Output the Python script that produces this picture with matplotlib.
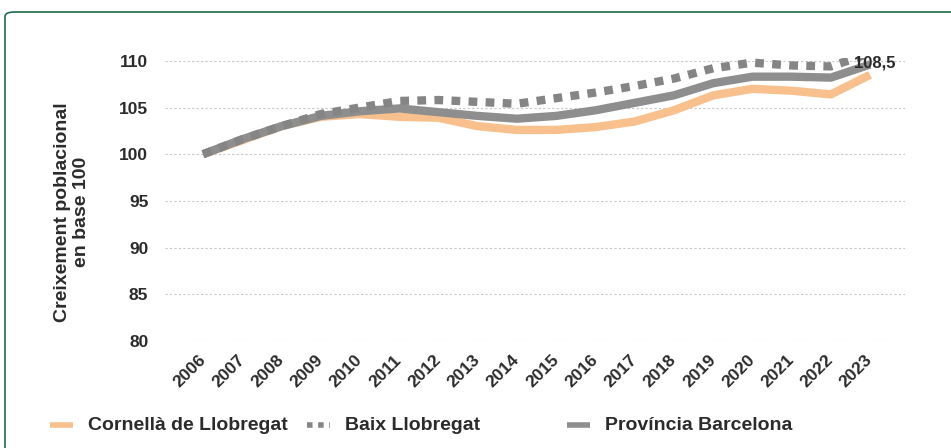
import matplotlib
matplotlib.use("Agg")
import matplotlib.pyplot as plt
from matplotlib.patches import FancyBboxPatch
from matplotlib.lines import Line2D

plt.rcParams['font.family'] = ['Liberation Sans', 'DejaVu Sans']

years = list(range(2006, 2024))
cornella = [100, 101.5, 103.0, 104.0, 104.3, 104.0, 103.9, 103.0, 102.6, 102.6,
            102.9, 103.5, 104.7, 106.3, 107.0, 106.8, 106.4, 108.5]
baix = [100, 101.6, 103.0, 104.3, 105.0, 105.7, 105.8, 105.6, 105.4, 106.0,
        106.6, 107.3, 108.1, 109.2, 109.8, 109.5, 109.4, 110.8]
provincia = [100, 101.6, 103.0, 104.1, 104.6, 104.9, 104.5, 104.1, 103.8, 104.1,
             104.7, 105.5, 106.3, 107.6, 108.3, 108.3, 108.2, 109.6]
labels = ["Cornellà de Llobregat", "Baix Llobregat", "Província Barcelona"]
yticks = [80, 85, 90, 95, 100, 105, 110]
end_label = "108,5"

c_orange = "#F8C08C"
c_grey = "#8E8E8E"
c_dot = "#858585"
txt = "#2B2B2B"

fig = plt.figure(figsize=(9.51, 4.48), dpi=100)
ax = fig.add_axes([165/951, 1-341/448, (905-165)/951, (341-58)/448])

ax.plot(years, cornella, color=c_orange, lw=6, solid_capstyle='butt', zorder=3)
ax.plot(years, provincia, color=c_grey, lw=6, solid_capstyle='butt', zorder=4)
ax.plot(years, baix, color=c_dot, lw=6, linestyle=(0, (1.05, 1.0)),
        dash_capstyle='butt', zorder=5)

ax.text(years[-1] + 0.12, 109.8, end_label, fontsize=12, fontweight='bold',
        color=txt, ha='center', va='center', zorder=6)

ax.set_xlim(2005.03, 2023.89)
ax.set_ylim(80, 110.3)
ax.set_yticks(yticks)
ax.set_xticks(years)
ax.set_xticklabels([str(y) for y in years], rotation=45, ha='right', va='center',
                   rotation_mode='anchor', fontsize=12.5, fontweight='bold', color=txt)
ax.set_yticklabels([str(v) for v in yticks], fontsize=12.5, fontweight='bold', color=txt)
ax.tick_params(axis='both', length=0)
ax.tick_params(axis='y', pad=12)
ax.tick_params(axis='x', pad=12)
for s in ax.spines.values():
    s.set_visible(False)
ax.grid(axis='y', color='#C8C8C8', linestyle=(0, (2, 2)), linewidth=0.8)
ax.set_axisbelow(True)

fig.text(72/951, 1-212/448, "Creixement poblacional\nen base 100", rotation=90,
         ha='center', va='center', fontsize=14, fontweight='bold', color=txt,
         linespacing=1.2)

# legend
swatches = [
    dict(color=c_orange, linestyle='-'),
    dict(color=c_dot, linestyle=(0, (1, 1))),
    dict(color=c_grey, linestyle='-'),
]
legx = [50, 307, 567]
y = 1-425/448
for sw, lab, x0 in zip(swatches, labels, legx):
    fig.add_artist(Line2D([x0/951, (x0+23)/951], [y, y], lw=4,
                          solid_capstyle='butt', dash_capstyle='butt', **sw))
    fig.text((x0+38)/951, y, lab, ha='left', va='center', fontsize=14,
             fontweight='bold', color=txt)

# border
border = FancyBboxPatch((5/951, -0.1), 1.2, 1-12/448+0.1,
                        boxstyle="round,pad=0,rounding_size=0.01",
                        transform=fig.transFigure, fill=False,
                        edgecolor='#1E6B4C', linewidth=1.2)
fig.add_artist(border)

fig.savefig("out.png", dpi=100)
